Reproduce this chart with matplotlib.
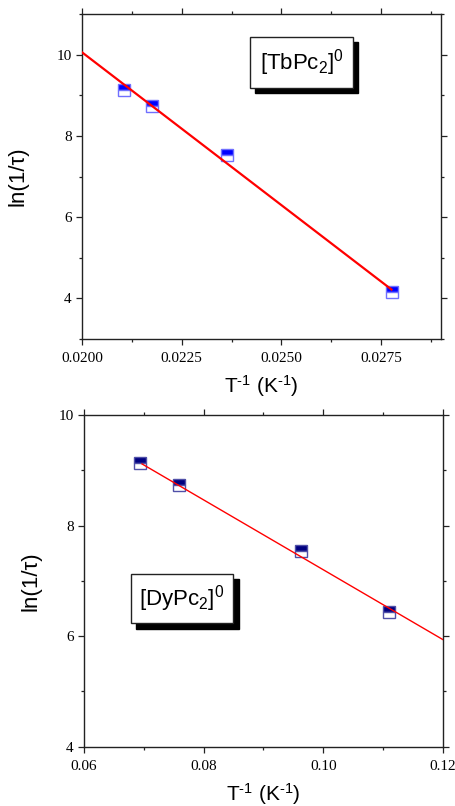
import matplotlib
matplotlib.use("Agg")
import matplotlib.pyplot as plt
import numpy as np
from matplotlib.patches import Rectangle
from matplotlib.ticker import MultipleLocator

# ---------------- data ----------------
tb_x = [0.02105, 0.02176, 0.02364, 0.02776]
tb_y = [9.14, 8.73, 7.54, 4.15]
tb_fit = [25.11, -752.6]          # intercept, slope
tb_label = r"[TbPc$_2$]$^0$"
tb_xticks = [0.0200, 0.0225, 0.0250, 0.0275]
tb_xticklabels = ['0.0200', '0.0225', '0.0250', '0.0275']
tb_yticks = [4, 6, 8, 10]

dy_x = [0.0694, 0.0758, 0.0962, 0.1110]
dy_y = [9.14, 8.73, 7.54, 6.44]
dy_fit = [13.52, -63.2]           # intercept, slope
dy_label = r"[DyPc$_2$]$^0$"
dy_xticks = [0.06, 0.08, 0.10, 0.12]
dy_xticklabels = ['0.06', '0.08', '0.10', '0.12']
dy_yticks = [4, 6, 8, 10]

ylabel = "ln(1/τ)"
xlabel = r"T$^{\text{-1}}$ (K$^{\text{-1}}$)"

plt.rcParams['mathtext.fontset'] = 'custom'
plt.rcParams['mathtext.rm'] = 'Liberation Sans'
plt.rcParams['mathtext.it'] = 'Liberation Sans:italic'
plt.rcParams['mathtext.bf'] = 'Liberation Sans:bold'
plt.rcParams['mathtext.sf'] = 'Liberation Sans'

fig = plt.figure(figsize=(4.56, 8.06), dpi=100)
ax1 = fig.add_axes([0.1798, 0.5794, 0.7873, 0.4032])
ax2 = fig.add_axes([0.1842, 0.0736, 0.7873, 0.4115])

SANS = ['Liberation Sans', 'DejaVu Sans']
SERIF = ['Liberation Serif', 'DejaVu Serif']
TICKFONT = {'family': SERIF, 'size': 11}


def style(ax, xt, xtl, yt):
    for s in ax.spines.values():
        s.set_linewidth(1.0)
        s.set_color('#222222')
    ax.set_xticks(xt)
    ax.set_xticklabels(xtl, fontdict=TICKFONT)
    ax.set_yticks(yt)
    ax.set_yticklabels([str(v) for v in yt], fontdict=TICKFONT)
    ax.tick_params(which='major', direction='out', length=4.5, width=0.9,
                   top=True, right=True, pad=3, color='#222222')
    ax.tick_params(which='minor', direction='out', length=2.5, width=0.9,
                   top=True, right=True, color='#222222')
    ax.tick_params(axis='x', which='major', pad=5)
    ax.set_ylabel(ylabel, fontsize=16, family=SANS)
    ax.set_xlabel(xlabel, fontsize=15, family=SANS, labelpad=6)


def label_box(ax, x0, y0, x1, y1, text, dx, dy):
    ax.add_patch(Rectangle((x0 + dx, y0 - dy), x1 - x0, y1 - y0,
                           transform=ax.transAxes, facecolor='black',
                           edgecolor='black', zorder=5, clip_on=False))
    ax.add_patch(Rectangle((x0, y0), x1 - x0, y1 - y0,
                           transform=ax.transAxes, facecolor='white',
                           edgecolor='#222222', linewidth=1.0, zorder=6,
                           clip_on=False))
    ax.text((x0 + x1) / 2, (y0 + y1) / 2, text, transform=ax.transAxes,
            ha='center', va='center', fontsize=16, family=SANS, zorder=7)


# ---------- top panel ----------
ax1.set_xlim(0.0200, 0.0290)
ax1.set_ylim(3, 11)
ax1.xaxis.set_minor_locator(MultipleLocator(0.00125))
ax1.yaxis.set_minor_locator(MultipleLocator(1))
xf = np.array([ax1.get_xlim()[0], max(tb_x)])
ax1.plot(xf, tb_fit[0] + tb_fit[1] * xf, color='red', lw=1.6, zorder=3)
ax1.plot(tb_x, tb_y, linestyle='none', marker='s', markersize=9,
         fillstyle='top', markerfacecolor='#0000ff',
         markerfacecoloralt='white', markeredgecolor='#7070ff',
         markeredgewidth=1.0, zorder=2)
style(ax1, tb_xticks, tb_xticklabels, tb_yticks)
ax1.set_xlim(0.0200, 0.0290)
ax1.set_ylim(3, 11)
ax1.yaxis.set_label_coords(-0.148, 0.5)
label_box(ax1, 0.468, 0.772, 0.755, 0.929, tb_label, 0.015, 0.016)

# ---------- bottom panel ----------
ax2.set_xlim(0.06, 0.12)
ax2.set_ylim(4, 10)
ax2.xaxis.set_minor_locator(MultipleLocator(0.01))
ax2.yaxis.set_minor_locator(MultipleLocator(1))
xf2 = np.array([min(dy_x) + 0.0003, ax2.get_xlim()[1]])
ax2.plot(xf2, dy_fit[0] + dy_fit[1] * xf2, color='red', lw=1.0, zorder=3)
ax2.plot(dy_x, dy_y, linestyle='none', marker='s', markersize=9,
         fillstyle='top', markerfacecolor='#000080',
         markerfacecoloralt='white', markeredgecolor='#5050a8',
         markeredgewidth=1.0, zorder=2)
style(ax2, dy_xticks, dy_xticklabels, dy_yticks)
ax2.set_xlim(0.06, 0.12)
ax2.set_ylim(4, 10)
ax2.yaxis.set_label_coords(-0.117, 0.5)
label_box(ax2, 0.130, 0.372, 0.416, 0.5216, dy_label, 0.016, 0.016)

fig.savefig('out.png', dpi=100)
